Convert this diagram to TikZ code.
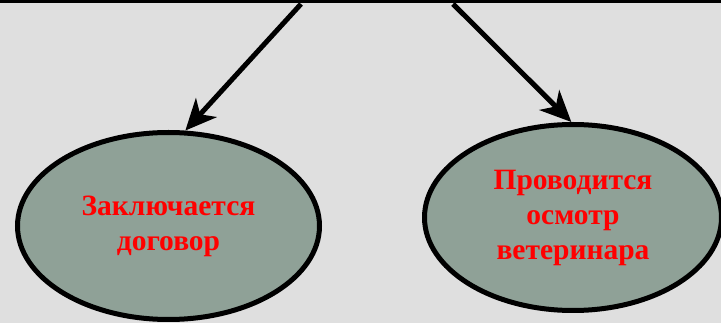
\documentclass[tikz,border=0pt]{standalone}
\usepackage{fontspec}
\setmainfont{Liberation Serif}
\usetikzlibrary{shapes.geometric,arrows.meta}
\definecolor{bg}{RGB}{223,223,223}
\definecolor{ellfill}{RGB}{143,161,151}
\definecolor{txtred}{RGB}{255,0,0}
\begin{document}
\begin{tikzpicture}[x=1pt,y=-1pt,
  oval/.style={ellipse, draw=black, line width=5pt, fill=ellfill, inner sep=0pt,
    align=center, text=txtred, font=\fontsize{29.5}{35}\selectfont\bfseries},
  arr/.style={line width=5pt, -{Stealth[length=31pt,width=28pt,inset=9pt]}}]
\fill[bg] (0,0) rectangle (721,323);
\useasboundingbox (0,0) rectangle (721,323);
\fill[black] (0,0) rectangle (721,3);
\node[oval, minimum width=302pt, minimum height=187pt] (L) at (168.5,226) {Заключается\\договор};
\node[oval, minimum width=297pt, minimum height=186pt] (R) at (573,217.5) {Проводится\\осмотр\\ветеринара};
\coordinate (lt) at (301,4);
\coordinate (rt) at (453,4);
\draw[arr] (lt) -- (L.80);
\draw[arr] (rt) -- (R.91);
\end{tikzpicture}
\end{document}
